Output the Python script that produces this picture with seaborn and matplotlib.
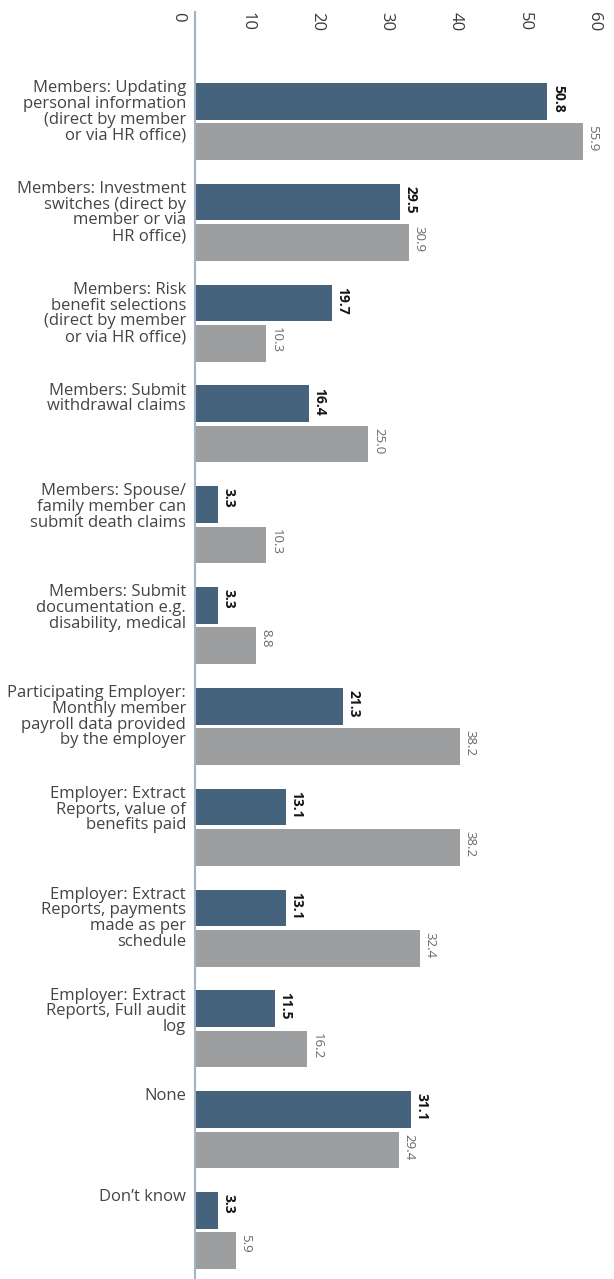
import numpy as np
import pandas as pd
import matplotlib
matplotlib.use("Agg")
import matplotlib.pyplot as plt
import seaborn as sns
from matplotlib.transforms import ScaledTranslation

# Services offered online, share of respondents (%)
categories = [
    "Members: Updating\npersonal information\n(direct by member\nor via HR office)",
    "Members: Investment\nswitches (direct by\nmember or via\nHR office)",
    "Members: Risk\nbenefit selections\n(direct by member\nor via HR office)",
    "Members: Submit\nwithdrawal claims",
    "Members: Spouse/\nfamily member can\nsubmit death claims",
    "Members: Submit\ndocumentation e.g.\ndisability, medical",
    "Participating Employer:\nMonthly member\npayroll data provided\nby the employer",
    "Employer: Extract\nReports, value of\nbenefits paid",
    "Employer: Extract\nReports, payments\nmade as per\nschedule",
    "Employer: Extract\nReports, Full audit\nlog",
    "None",
    "Don\u2019t know",
]
series_names = ["Series 1", "Series 2"]
values_1 = [50.8, 29.5, 19.7, 16.4, 3.3, 3.3, 21.3, 13.1, 13.1, 11.5, 31.1, 3.3]
values_2 = [55.9, 30.9, 10.3, 25.0, 10.3, 8.8, 38.2, 38.2, 32.4, 16.2, 29.4, 5.9]
x_ticks = [0, 10, 20, 30, 40, 50, 60]

DARK = "#46637d"
GRAY = "#9d9ea0"
AXIS = "#a3b3c4"

sns.set_theme(style="white")
plt.rcParams["font.family"] = ["Open Sans", "DejaVu Sans"]

n = len(categories)
df = pd.DataFrame({
    "category": categories * 2,
    "series": [series_names[0]] * n + [series_names[1]] * n,
    "value": values_1 + values_2,
})

W, H, DPI = 614, 1279, 100
fig = plt.figure(figsize=(W / DPI, H / DPI), dpi=DPI)
ax = fig.add_axes([195 / W, 0, (W - 195) / W, (H - 12) / H])

sns.barplot(
    data=df, y="category", x="value", hue="series",
    order=categories, hue_order=series_names,
    palette=[DARK, GRAY], saturation=1, width=0.8, gap=0.09,
    orient="h", errorbar=None, legend=False, ax=ax, linewidth=0,
)

ax.set_xlim(0, 60.4)
ax.set_ylim(n - 0.519, -1.086)
ax.set_xlabel("")
ax.set_ylabel("")

for side in ["top", "right", "bottom"]:
    ax.spines[side].set_visible(False)
ax.spines["left"].set_color(AXIS)
ax.spines["left"].set_linewidth(1.5)

# value axis on top, rotated labels hanging into the plot
ax.xaxis.tick_top()
ax.set_xticks(x_ticks)
ax.set_xticklabels([str(t) for t in x_ticks])
ax.tick_params(axis="x", length=0, pad=0, labelsize=12,
               labelcolor="#3a3a3a", labelrotation=270)
shift = ScaledTranslation(-17 / DPI, 0, fig.dpi_scale_trans)
for lab in ax.get_xticklabels():
    lab.set_va("top")
    lab.set_ha("center")
    lab.set_transform(lab.get_transform() + shift)

# category labels aligned with the top of each group
ax.set_yticks(np.arange(n) - 0.41, labels=categories)
ax.tick_params(axis="y", length=0, pad=6.5, labelsize=12, labelcolor="#444444")
for lab in ax.get_yticklabels():
    lab.set_va("top")
    lab.set_ha("right")
    lab.set_multialignment("right")
    lab.set_linespacing(0.98)

# value labels at the end of each bar
styles = [("#151515", "bold", 10), ("#6a6a6a", "normal", 9.5)]
for container, (col, wt, fs) in zip(ax.containers, styles):
    for patch in container.patches:
        w = patch.get_width()
        ax.annotate(
            f"{w:.1f}",
            xy=(patch.get_x() + w, patch.get_y()),
            xytext=(2.5, -1.5), textcoords="offset points",
            rotation=270, ha="left", va="top",
            fontsize=fs, color=col, fontweight=wt,
        )

fig.savefig("out.png", dpi=DPI)
